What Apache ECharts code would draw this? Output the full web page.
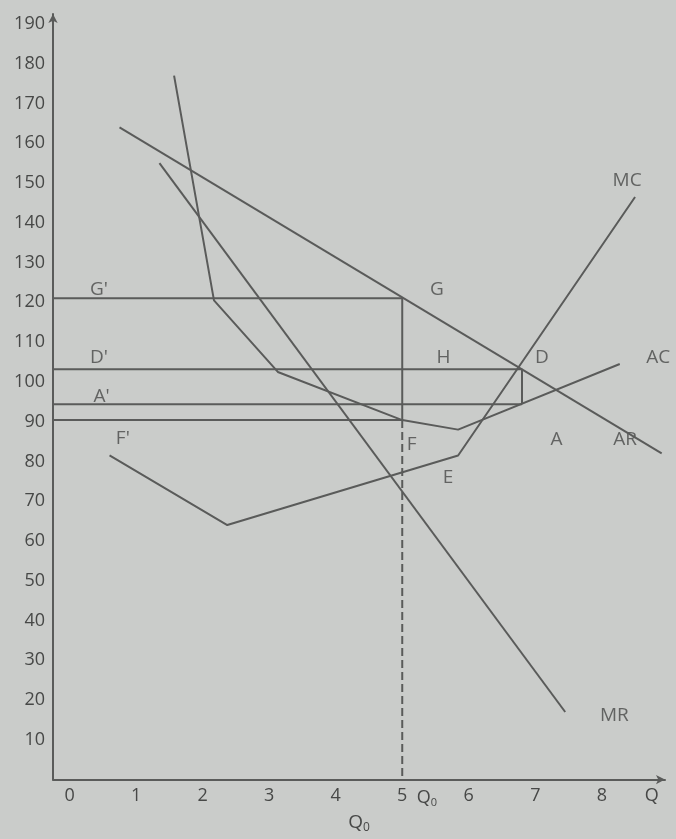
<!DOCTYPE html>
<html>
<head>
<meta charset="utf-8">
<script src="https://cdn.jsdelivr.net/npm/echarts@6/dist/echarts.min.js"></script>
<style>
  html, body { margin: 0; padding: 0; background: #cacccA; }
  #chart { width: 676px; height: 839px; }
</style>
</head>
<body>
<div id="chart"></div>
<script>
// curves: [quantity, price]
const arCurve = [[0.75, 164], [8.9, 82]]
const mrCurve = [[1.35, 155], [7.45, 17]]
const mcCurve = [[0.6, 81.5], [2.37, 64], [5.84, 81.5], [8.5, 146.5]]
const acCurve = [[1.57, 177], [2.17, 120.5], [3.13, 102.5], [5.0, 90.4], [5.84, 88], [8.27, 104.5]]

// key quantities and prices
const q0 = 5
const qD = 6.8
const priceG = 121
const priceD = 103.2
const priceA = 94.4
const priceF = 90.4

// tick labels
const yTickValues = [10, 20, 30, 40, 50, 60, 70, 80, 90, 100, 110, 120, 130, 140, 150, 160, 170, 180, 190]
const xTickValues = [0, 1, 2, 3, 4, 5, 5.37, 6, 7, 8, 8.75]
const xTickLabels = ["0", "1", "2", "3", "4", "5", "{q|Q}{s|0}", "6", "7", "8", "Q"]

// point labels: [text, quantity, price]
const pointLabels = [
  ["G'", 0.44, 123.1],
  ["G", 5.52, 123.1],
  ["D'", 0.44, 106],
  ["H", 5.62, 106],
  ["D", 7.1, 106],
  ["AC", 8.85, 106],
  ["A'", 0.48, 96.4],
  ["F'", 0.8, 85.7],
  ["F", 5.14, 84.3],
  ["A", 7.32, 85.6],
  ["AR", 8.35, 85.6],
  ["E", 5.69, 76],
  ["MC", 8.38, 150.5],
  ["MR", 8.19, 16.1],
]

const xMin = -0.25
const xMax = 8.95
const ink = "#5a5b5a"
const textInk = "#474847"
const font = "Open Sans"

const chart = echarts.init(document.getElementById("chart"))

const solid = (data) => ({
  type: "line",
  data: data,
  symbol: "none",
  silent: true,
  lineStyle: { color: ink, width: 2 },
})

const option = {
  animation: false,
  backgroundColor: "#cacccA",
  grid: { left: 53, width: 612, top: 14, bottom: 55 },
  xAxis: {
    type: "value",
    min: xMin,
    max: xMax,
    name: "{q|Q}{s|0}",
    nameLocation: "middle",
    nameGap: 31,
    nameTextStyle: {
      rich: {
        q: { fontFamily: font, fontSize: 19, color: textInk, lineHeight: 22 },
        s: { fontFamily: font, fontSize: 12, color: textInk, lineHeight: 14, verticalAlign: "bottom" },
      },
    },
    axisLine: {
      show: true,
      onZero: false,
      symbol: ["none", "arrow"],
      symbolSize: [7, 9],
      lineStyle: { color: ink, width: 2 },
    },
    axisTick: { show: false },
    splitLine: { show: false },
    axisLabel: {
      customValues: xTickValues,
      margin: 7,
      fontFamily: font,
      fontSize: 18,
      color: textInk,
      formatter: (v) => {
        const i = xTickValues.findIndex((t) => Math.abs(t - v) < 1e-6)
        return i >= 0 ? xTickLabels[i] : ""
      },
      rich: {
        q: { fontFamily: font, fontSize: 18, color: textInk, lineHeight: 22 },
        s: { fontFamily: font, fontSize: 11, color: textInk, lineHeight: 14, verticalAlign: "bottom" },
      },
    },
  },
  yAxis: {
    type: "value",
    min: 0,
    max: 192.5,
    axisLine: {
      show: true,
      onZero: false,
      symbol: ["none", "arrow"],
      symbolSize: [7, 9],
      lineStyle: { color: ink, width: 2 },
    },
    axisTick: { show: false },
    splitLine: { show: false },
    axisLabel: {
      customValues: yTickValues,
      margin: 8,
      fontFamily: font,
      fontSize: 18,
      color: textInk,
    },
  },
  series: [
    solid(arCurve),
    solid(mrCurve),
    solid(mcCurve),
    solid(acCurve),
    solid([[xMin, priceG], [q0, priceG], [q0, priceF]]),
    solid([[xMin, priceD], [qD, priceD], [qD, priceA]]),
    solid([[xMin, priceA], [qD, priceA]]),
    solid([[xMin, priceF], [q0, priceF]]),
    {
      type: "line",
      data: [[q0, priceF], [q0, 0]],
      symbol: "none",
      silent: true,
      lineStyle: { color: ink, width: 2, type: [8, 4] },
    },
    {
      type: "scatter",
      data: pointLabels.map((p) => [p[1], p[2], p[0]]),
      symbolSize: 0,
      silent: true,
      itemStyle: { color: textInk },
      label: {
        show: true,
        position: "inside",
        formatter: (p) => p.data[2],
        fontFamily: font,
        fontSize: 19,
        color: textInk,
        textBorderWidth: 0,
      },
    },
  ],
}

chart.setOption(option)
</script>
</body>
</html>
